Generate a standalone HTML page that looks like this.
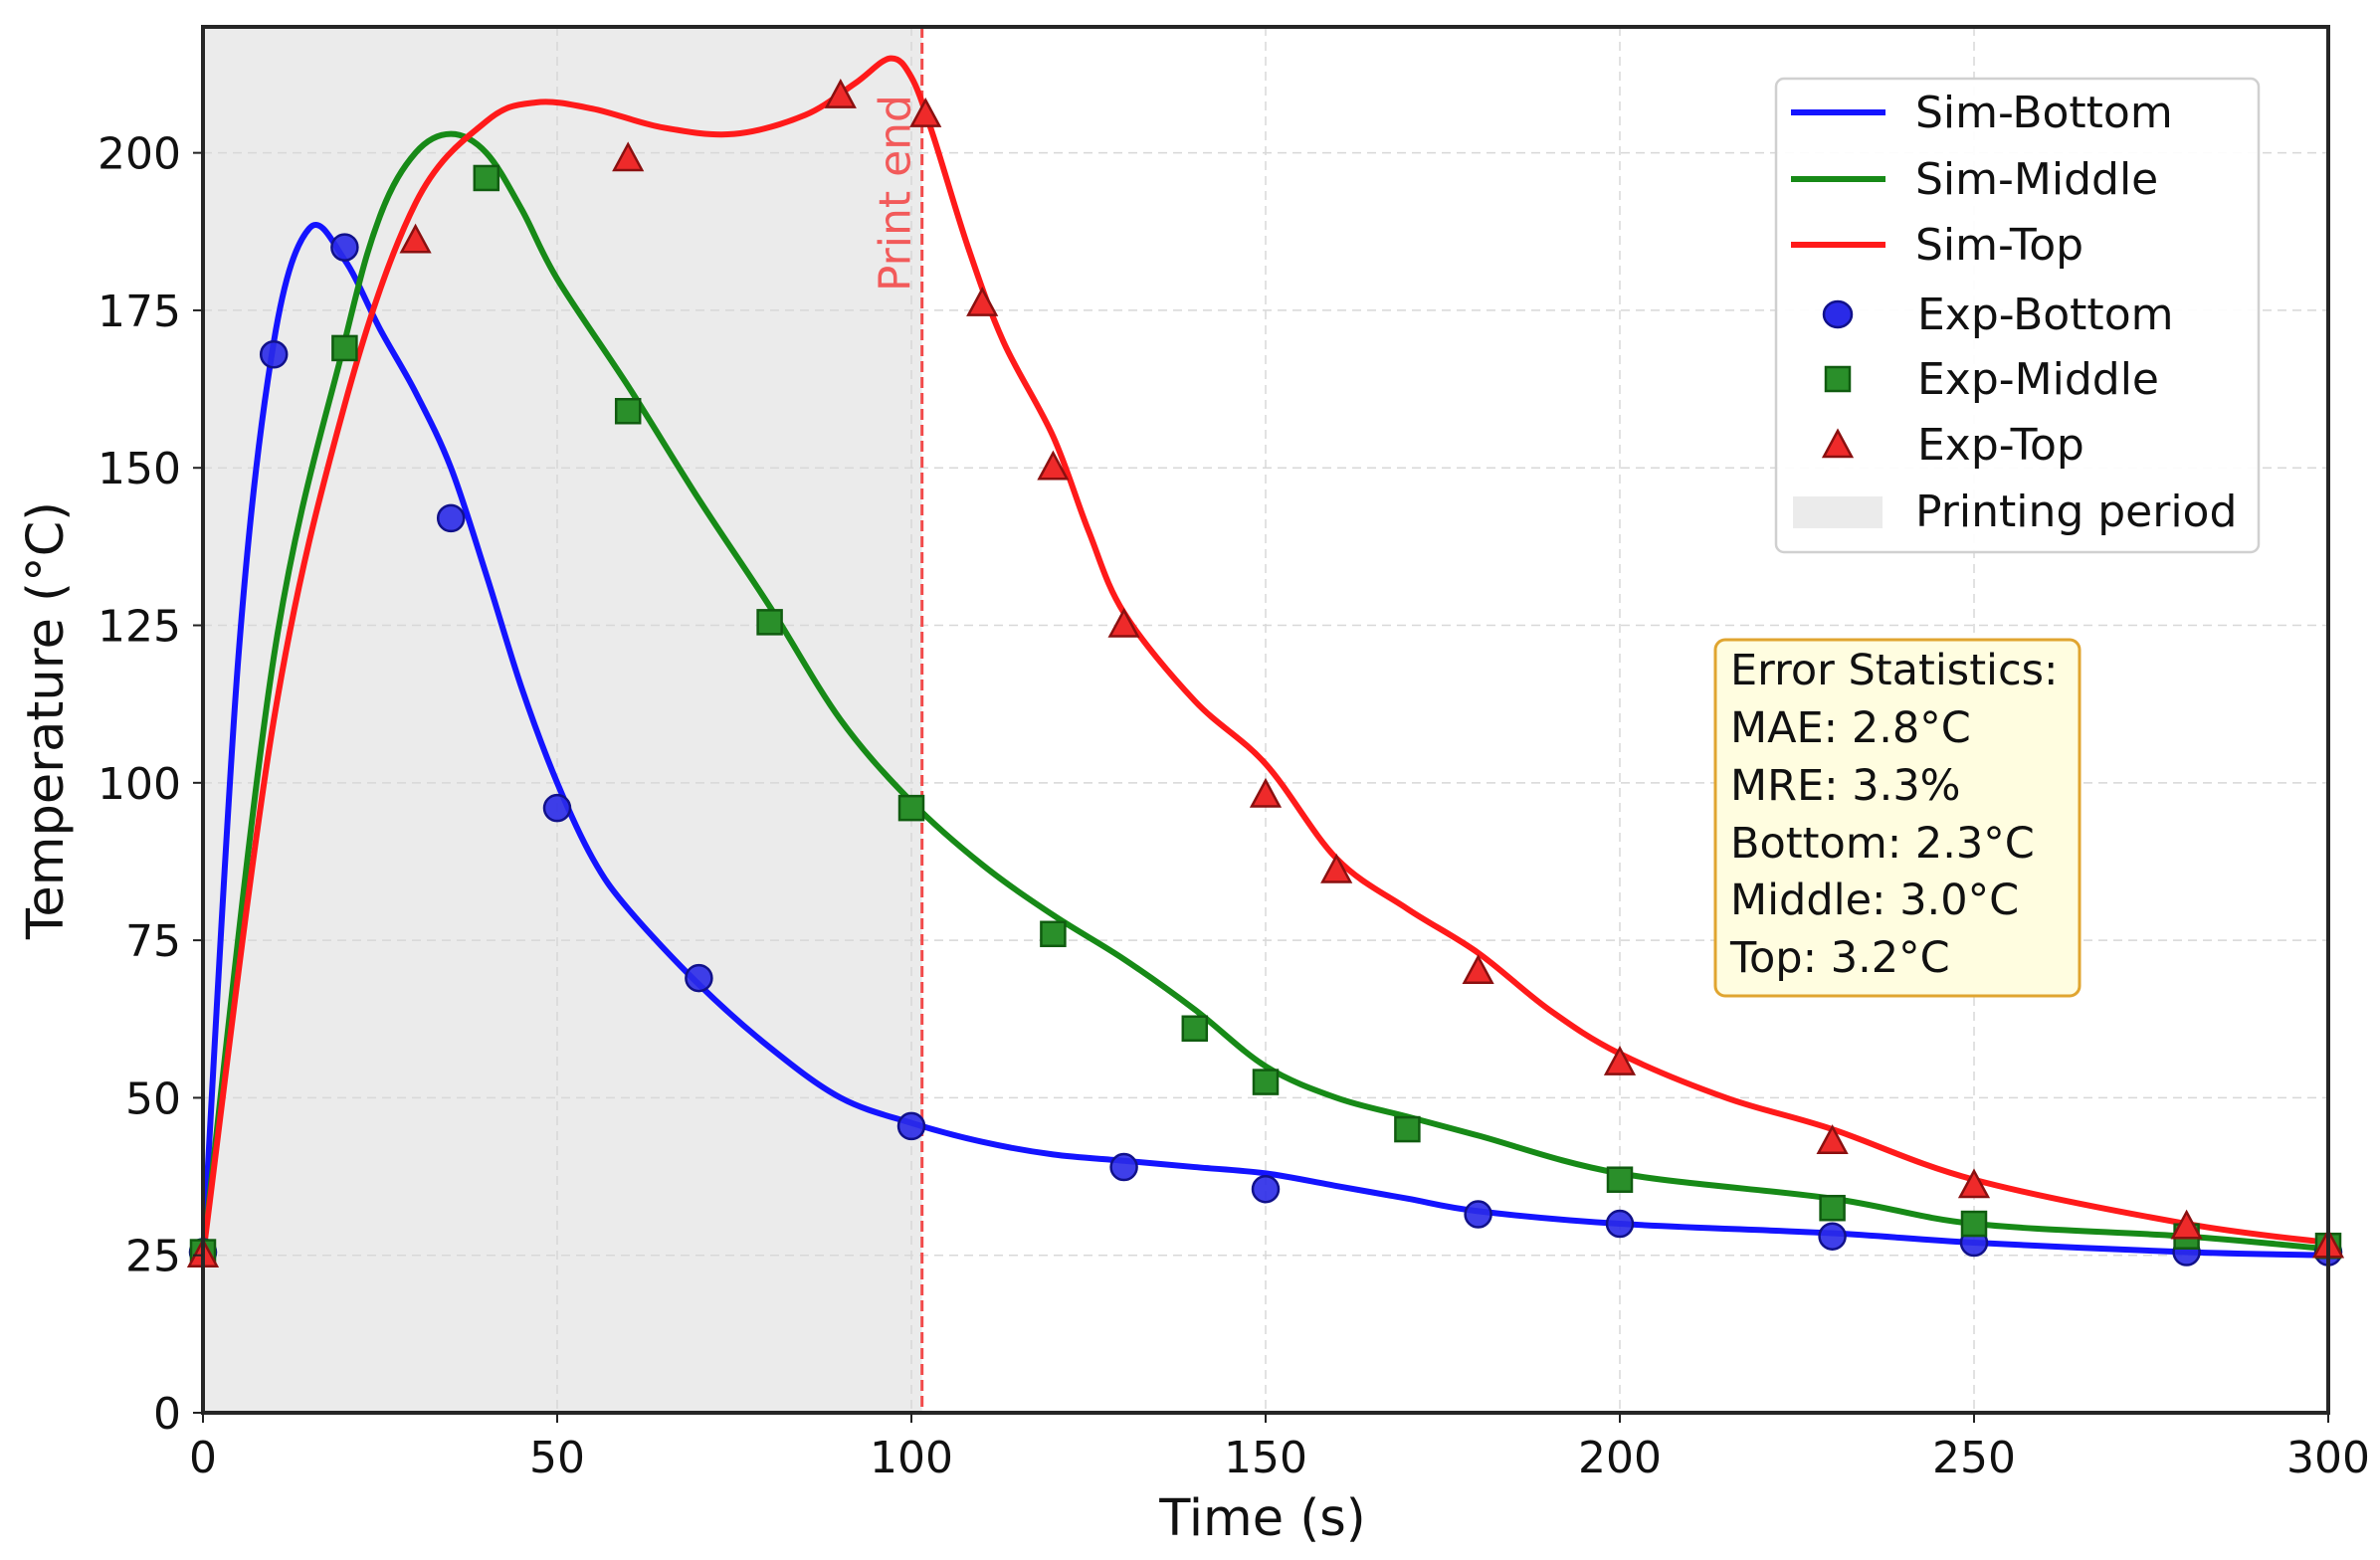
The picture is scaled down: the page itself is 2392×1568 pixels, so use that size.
<!DOCTYPE html>
<html><head><meta charset="utf-8"><style>
html,body{margin:0;padding:0;background:#fff;}
svg{display:block;font-family:"DejaVu Sans","Liberation Sans",sans-serif;}
</style></head><body>
<svg id="chart" width="2392" height="1568" viewBox="0 0 2392 1568">
<g id="plot"></g>
</svg>
<script>
const simT=[0,5,10,15,20,25,30,35,40,45,50,55,60,70,80,90,100,110,120,130,140,150,160,170,180,200,230,250,280,300];
const simBottom=[25,120,170,188,183,172,162,150,133,115,100,88,80,68,58,50,46,43,41,40,39,38,36,34,32,30,28.5,27,25.5,25];
const simMidT=[0,10,20,25,30,35,40,45,50,60,70,80,90,100,110,120,130,140,150,160,170,180,200,230,250,280,300];
const simMiddle=[25,120,170,190,200,203,200,191,180,163,145,128,110,97,87,79,72,64,55,50,47,44,38,34,30,28,26];
const simTopT=[0,10,20,30,40,47,55,65,75,85,92,97,100,103,108,113,120,125,130,140,150,160,170,180,190,200,215,230,250,280,300];
const simTop=[25,110,160,192,205,208,207,204,203,206,211,215,212,203,185,170,155,140,127,113,103,88,80,73,64,57,50,45,37,30,27];
const expBT=[0,10,20,35,50,70,100,130,150,180,200,230,250,280,300];
const expBottom=[25.5,168,185,142,96,69,45.5,39,35.5,31.5,30,28,27,25.5,25.5];
const expMT=[0,20,40,60,80,100,120,140,150,170,200,230,250,280,300];
const expMiddle=[25.5,169,196,159,125.5,96,76,61,52.5,45,37,32.5,30,28,26.5];
const expTT=[0,30,60,90,102,110,120,130,150,160,180,200,230,250,280,300];
const expTop=[25,186,199,209,206,176,150,125,98,86,70,55.5,43,36,29.5,26.5];
const xTicks=[0,50,100,150,200,250,300];
const yTicks=[0,25,50,75,100,125,150,175,200];
const printEnd=101.5;

const L=204,R=2340,T=27,B=1420,XMAX=300,YMAX=220;
const X=t=>L+t*(R-L)/XMAX;
const Y=v=>B-v*(B-T)/YMAX;
const NS="http://www.w3.org/2000/svg";
const svg=document.getElementById('plot');
function mk(tag,attrs,parent){const e=document.createElementNS(NS,tag);for(const k in attrs)e.setAttribute(k,attrs[k]);(parent||svg).appendChild(e);return e;}

let e=mk('rect',{x:L,y:T,width:R-L,height:B-T,fill:'#fff'});


e=mk('rect',{x:L,y:T,width:X(printEnd)-L,height:B-T,fill:'#ebebeb'});



xTicks.forEach(t=>{
  const g=mk('line',{x1:X(t),x2:X(t),y1:T,y2:B,stroke:'#d8d8d8','stroke-width':1.5,'stroke-dasharray':'9,6'});
  
  
});
yTicks.forEach(v=>{
  const g=mk('line',{x1:L,x2:R,y1:Y(v),y2:Y(v),stroke:'#d8d8d8','stroke-width':1.5,'stroke-dasharray':'9,6'});
  
  
});

e=mk('line',{x1:X(printEnd),x2:X(printEnd),y1:T,y2:B,stroke:'#f24b4b','stroke-width':3,'stroke-dasharray':'11,5'});


e=mk('text',{x:0,y:0,fill:'#f25a5a','font-size':44,'text-anchor':'end',transform:`translate(${X(printEnd)-12},95) rotate(-90)`});
e.textContent='Print end';



function smooth(xs,ys){
  const p=xs.map((t,i)=>[X(t),Y(ys[i])]);
  let d=`M${p[0][0]},${p[0][1]}`;
  for(let i=0;i<p.length-1;i++){
    const p0=p[i-1]||p[i],p1=p[i],p2=p[i+1],p3=p[i+2]||p2;
    const c1=[p1[0]+(p2[0]-p0[0])/6,p1[1]+(p2[1]-p0[1])/6];
    const c2=[p2[0]-(p3[0]-p1[0])/6,p2[1]-(p3[1]-p1[1])/6];
    d+=`C${c1[0]},${c1[1]} ${c2[0]},${c2[1]} ${p2[0]},${p2[1]}`;
  }
  return d;
}
e=mk('path',{d:smooth(simT,simBottom),fill:'none',stroke:'#1414ff','stroke-width':6});


e=mk('path',{d:smooth(simMidT,simMiddle),fill:'none',stroke:'#178a17','stroke-width':6});


e=mk('path',{d:smooth(simTopT,simTop),fill:'none',stroke:'#ff1a1a','stroke-width':6});



expBT.forEach((t,i)=>{
  const m=mk('ellipse',{cx:X(t),cy:Y(expBottom[i]),rx:13,ry:13,fill:'#2a2ae8',stroke:'#11118a','stroke-width':2.5,'fill-opacity':0.9});
  
  
});
expMT.forEach((t,i)=>{
  const m=mk('rect',{x:X(t)-12,y:Y(expMiddle[i])-12,width:24,height:24,fill:'#2a8f2a',stroke:'#105c10','stroke-width':2.5});
  
  
});
expTT.forEach((t,i)=>{
  const cx=X(t),cy=Y(expTop[i]);
  const m=mk('polygon',{points:`${cx},${cy-15} ${cx+14},${cy+11} ${cx-14},${cy+11}`,fill:'#ee2a2a',stroke:'#8a1010','stroke-width':2.5});
  
  
});

e=mk('rect',{x:L,y:T,width:R-L,height:B-T,fill:'none',stroke:'#262626','stroke-width':4});



xTicks.forEach(t=>{
  const k=mk('line',{x1:X(t),x2:X(t),y1:B,y2:B+10,stroke:'#222','stroke-width':2});
  
  
  const tx=mk('text',{x:X(t),y:B+60,'font-size':44,'text-anchor':'middle',fill:'#111'});
  tx.textContent=t;
  
  
});
yTicks.forEach(v=>{
  const k=mk('line',{x1:L-10,x2:L,y1:Y(v),y2:Y(v),stroke:'#222','stroke-width':2});
  
  
  const tx=mk('text',{x:L-22,y:Y(v)+16,'font-size':44,'text-anchor':'end',fill:'#111'});
  tx.textContent=v;
  
  
});
e=mk('text',{x:1269,y:1543,'font-size':51,'text-anchor':'middle',fill:'#111'});
e.textContent='Time (s)';


e=mk('text',{x:0,y:0,'font-size':51,'text-anchor':'middle',fill:'#111',transform:'translate(63,724) rotate(-90)'});
e.textContent='Temperature (°C)';


</script>

<svg style="position:absolute;left:0;top:0" width="2392" height="1568" font-family="DejaVu Sans, Liberation Sans, sans-serif">
<g>
<rect x="1785" y="79" width="485" height="476" rx="8" fill="#fff" fill-opacity="0.92" stroke="#d0d0d0" stroke-width="2.5"/>
<line x1="1800" y1="113" x2="1895" y2="113" stroke="#1414ff" stroke-width="6"/>
<text x="1925" y="128" font-size="44" fill="#111">Sim-Bottom</text>
<line x1="1800" y1="180" x2="1895" y2="180" stroke="#178a17" stroke-width="6"/>
<text x="1925" y="195" font-size="44" fill="#111">Sim-Middle</text>
<line x1="1800" y1="246" x2="1895" y2="246" stroke="#ff1a1a" stroke-width="6"/>
<text x="1925" y="261" font-size="44" fill="#111">Sim-Top</text>
<ellipse cx="1847" cy="316" rx="14" ry="13" fill="#2a2ae8" stroke="#11118a" stroke-width="2.5"/>
<text x="1927" y="331" font-size="44" fill="#111">Exp-Bottom</text>
<rect x="1835" y="369" width="24" height="24" fill="#2a8f2a" stroke="#105c10" stroke-width="2.5"/>
<text x="1927" y="396" font-size="44" fill="#111">Exp-Middle</text>
<polygon points="1847,433 1861,459 1833,459" fill="#ee2a2a" stroke="#8a1010" stroke-width="2.5"/>
<text x="1927" y="462" font-size="44" fill="#111">Exp-Top</text>
<rect x="1802" y="499" width="90" height="32" fill="#ebebeb"/>
<text x="1925" y="529" font-size="44" fill="#111">Printing period</text>
</g>
<g>
<rect x="1724" y="643" width="366" height="358" rx="10" fill="#fffde0" stroke="#e0a530" stroke-width="3"/>
<text font-size="43" fill="#111">
<tspan x="1739" y="688">Error Statistics:</tspan>
<tspan x="1739" y="746">MAE: 2.8°C</tspan>
<tspan x="1739" y="804">MRE: 3.3%</tspan>
<tspan x="1739" y="862">Bottom: 2.3°C</tspan>
<tspan x="1739" y="919">Middle: 3.0°C</tspan>
<tspan x="1739" y="977">Top: 3.2°C</tspan>
</text>
</g>
</svg>
</body></html>
